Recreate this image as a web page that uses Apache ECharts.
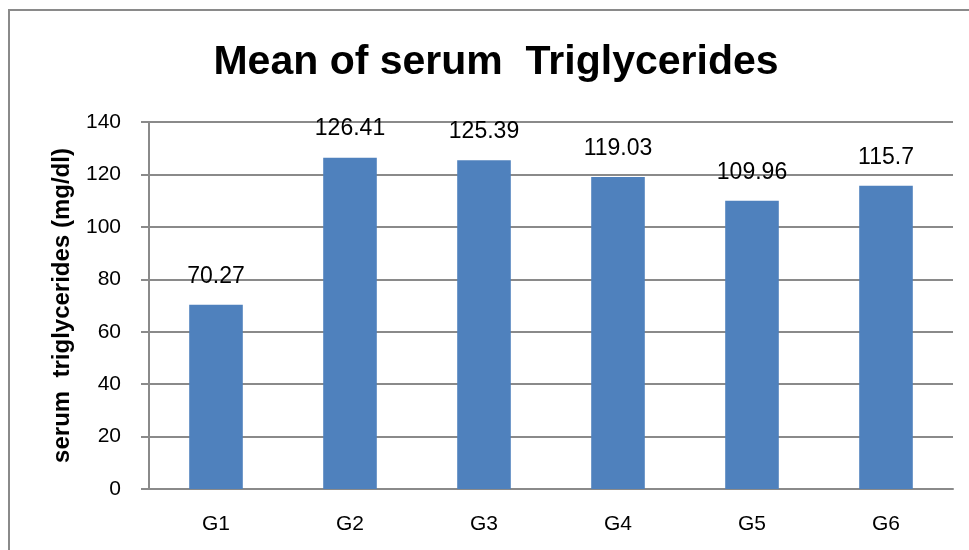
<!DOCTYPE html>
<html>
<head>
<meta charset="utf-8">
<script src="https://cdn.jsdelivr.net/npm/echarts@6/dist/echarts.min.js"></script>
<style>
  html, body { margin: 0; padding: 0; background: #fff; }
  #chart { width: 969px; height: 550px; }
</style>
</head>
<body>
<div id="chart"></div>
<script>
// data
var categories = ['G1', 'G2', 'G3', 'G4', 'G5', 'G6'];
var meanValues = [70.27, 126.41, 125.39, 119.03, 109.96, 115.7];
var yTicks = { min: 0, max: 140, step: 20 };

var gridColor = '#8a8a8a';
var fontFam = '"Liberation Sans", "Open Sans", sans-serif';

var myChart = echarts.init(document.getElementById('chart'));

var option = {
    animation: false,
    backgroundColor: '#fff',
    // outer frame of the chart area
    graphic: [{
        type: 'rect',
        shape: { x: 9, y: 10, width: 1100, height: 700 },
        style: { fill: 'none', stroke: '#8a8a8a', lineWidth: 2 },
        silent: true
    }],
    title: {
        text: 'Mean of serum  Triglycerides',
        left: 491,
        textAlign: 'center',
        top: 37,
        textStyle: { fontFamily: fontFam, fontWeight: 'bold', fontSize: 41, color: '#000' }
    },
    grid: { left: 149, right: 16, top: 122, bottom: 61 },
    xAxis: {
        type: 'category',
        data: categories,
        axisLine: { lineStyle: { color: gridColor, width: 2 } },
        axisTick: { show: false },
        axisLabel: { fontFamily: fontFam, fontSize: 21, color: '#000', margin: 25 }
    },
    yAxis: {
        type: 'value',
        min: yTicks.min,
        max: yTicks.max,
        interval: yTicks.step,
        name: 'serum  triglycerides (mg/dl)',
        nameLocation: 'middle',
        nameGap: 75,
        nameTextStyle: { fontFamily: fontFam, fontWeight: 'bold', fontSize: 24, color: '#000' },
        axisLine: { show: true, lineStyle: { color: gridColor, width: 2 } },
        axisTick: { show: true, length: 8, lineStyle: { color: gridColor, width: 2 } },
        axisLabel: { fontFamily: fontFam, fontSize: 21, color: '#000', margin: 28 },
        splitLine: { lineStyle: { color: gridColor, width: 2 } }
    },
    series: [{
        type: 'bar',
        data: meanValues,
        barWidth: '40%',
        itemStyle: { color: '#4F81BD' },
        label: {
            show: true,
            position: 'top',
            distance: 17,
            fontFamily: fontFam,
            fontSize: 23,
            color: '#000'
        }
    }]
};

myChart.setOption(option);
</script>
</body>
</html>
